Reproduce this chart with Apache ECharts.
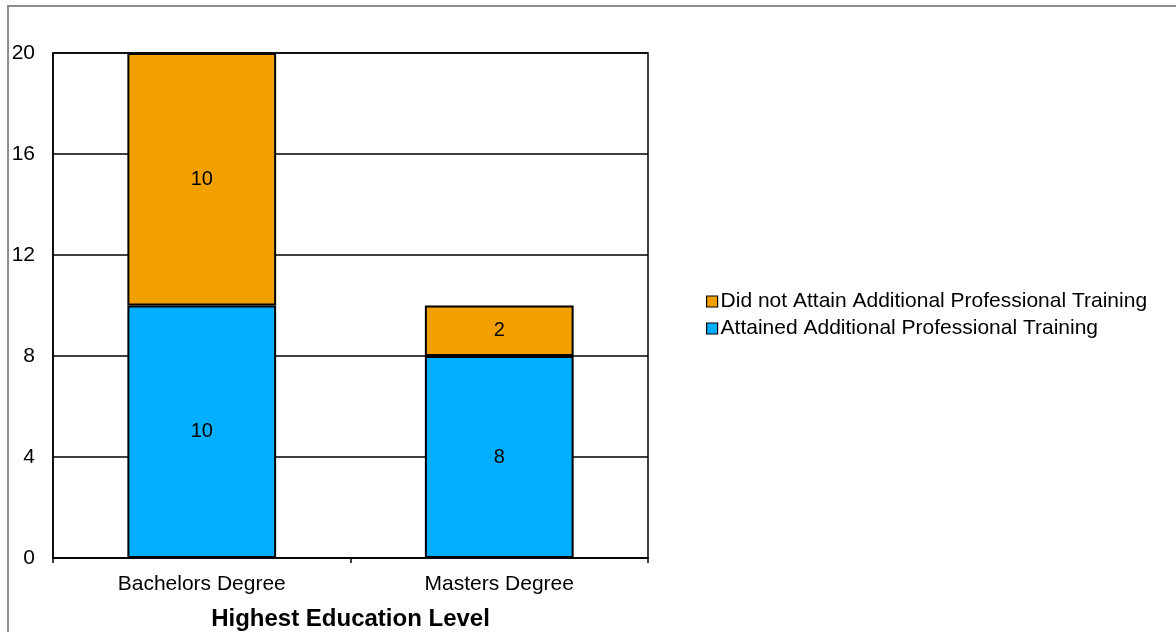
<!DOCTYPE html>
<html><head><meta charset="utf-8">
<script src="https://cdn.jsdelivr.net/npm/echarts@6/dist/echarts.min.js"></script>
<style>
html,body{margin:0;padding:0;background:#fff;}
#wrap{position:absolute;left:0;top:0;width:1176px;height:632px;overflow:hidden;}
#frame{position:absolute;left:7px;top:5px;width:1200px;height:700px;border:2px solid #8c8c8c;box-sizing:border-box;}
#c{position:absolute;left:0;top:0;width:1176px;height:632px;}
</style></head>
<body><div id="wrap"><div id="frame"></div><div id="c"></div></div>
<script>
const categories = ['Bachelors Degree', 'Masters Degree'];
const attained = [10, 8];
const notAttained = [10, 2];
const seriesNames = ['Attained Additional Professional Training', 'Did not Attain Additional Professional Training'];
const axisTitle = 'Highest Education Level';

const chart = echarts.init(document.getElementById('c'), null, {renderer:'canvas'});
const font = 'Liberation Sans, Arial, sans-serif';
const lbl = {show:true, position:'inside', color:'#000', fontSize:20, fontFamily:font};
chart.setOption({
  animation:false,
  backgroundColor:'transparent',
  grid:{left:53, right:528, top:53, bottom:74, containLabel:false, outerBoundsMode:'none',
        show:true, borderColor:'#000', borderWidth:1.5, backgroundColor:'transparent'},
  legend:{
    orient:'vertical', left:701, top:286, itemWidth:11, itemHeight:11, itemGap:6,
    data:[seriesNames[1], seriesNames[0]],
    icon:'rect',
    itemStyle:{borderColor:'#000', borderWidth:1.2},
    textStyle:{fontSize:21, lineHeight:21, color:'#000', fontFamily:font, padding:[0,0,0,-2]}
  },
  xAxis:{
    type:'category', data:categories,
    axisLine:{lineStyle:{color:'#000', width:1.5}},
    axisTick:{show:true, length:5, lineStyle:{color:'#000', width:1.5}},
    axisLabel:{color:'#000', fontSize:21, fontFamily:font, margin:16},
    name:axisTitle, nameLocation:'middle', nameGap:49,
    nameTextStyle:{fontSize:24, fontWeight:'bold', color:'#000', fontFamily:font}
  },
  yAxis:{
    type:'value', min:0, max:20, interval:4,
    axisLine:{show:true, lineStyle:{color:'#000', width:1.5}},
    axisTick:{show:false},
    axisLabel:{color:'#000', fontSize:21, fontFamily:font, margin:18},
    splitLine:{lineStyle:{color:'#000', width:1.5}}
  },
  series:[
    {name:seriesNames[0], type:'bar', stack:'a', data:attained, barWidth:'50%',
     itemStyle:{color:'#02AEFF', borderColor:'#000', borderWidth:2}, label:lbl},
    {name:seriesNames[1], type:'bar', stack:'a', data:notAttained, barWidth:'50%',
     itemStyle:{color:'#F2A000', borderColor:'#000', borderWidth:2}, label:lbl}
  ]
});
</script></body></html>
